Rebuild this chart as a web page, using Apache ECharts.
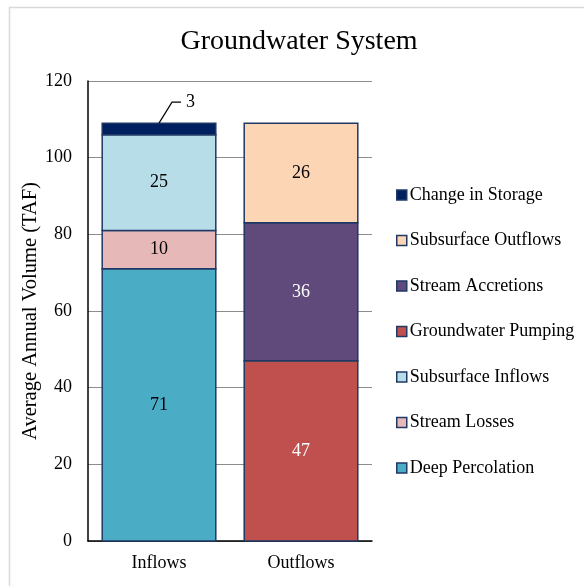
<!DOCTYPE html>
<html>
<head>
<meta charset="utf-8">
<script src="https://cdn.jsdelivr.net/npm/echarts@6/dist/echarts.min.js"></script>
<style>
html,body{margin:0;padding:0;background:#fff;}
#c{width:584px;height:586px;}
</style>
</head>
<body>
<div id="c"></div>
<script>
const categories = ['Inflows', 'Outflows'];
const deepPercolation = [71, 0];
const streamLosses = [10, 0];
const subsurfaceInflows = [25, 0];
const changeInStorage = [3, 0];
const groundwaterPumping = [0, 47];
const streamAccretions = [0, 36];
const subsurfaceOutflows = [0, 26];
const yTicks = { min: 0, max: 120, interval: 20 };
const legendOrder = ['Change in Storage', 'Subsurface Outflows', 'Stream Accretions', 'Groundwater Pumping', 'Subsurface Inflows', 'Stream Losses', 'Deep Percolation'];

const FONT = "'Liberation Serif', 'Times New Roman', serif";
const BORDER = '#1F3864';

const defs = [
  { name: 'Deep Percolation', values: deepPercolation, color: '#4BACC6', labelColor: '#000' },
  { name: 'Stream Losses', values: streamLosses, color: '#E6B9B8', labelColor: '#000' },
  { name: 'Subsurface Inflows', values: subsurfaceInflows, color: '#B7DEE8', labelColor: '#000' },
  { name: 'Change in Storage', values: changeInStorage, color: '#002060', labelColor: '#000', callout: true },
  { name: 'Groundwater Pumping', values: groundwaterPumping, color: '#C0504D', labelColor: '#fff' },
  { name: 'Stream Accretions', values: streamAccretions, color: '#604A7B', labelColor: '#fff' },
  { name: 'Subsurface Outflows', values: subsurfaceOutflows, color: '#FCD5B5', labelColor: '#000' }
];

const running = categories.map(() => 0);
const series = defs.map(function (d) {
  const data = [];
  d.values.forEach(function (v, i) {
    if (v > 0) {
      data.push([i, running[i], running[i] + v, v]);
      running[i] += v;
    }
  });
  return {
    name: d.name,
    type: 'custom',
    data: data,
    encode: { x: 0, y: 2 },
    itemStyle: { color: d.color, borderColor: BORDER, borderWidth: 1.5 },
    renderItem: function (params, api) {
      const ci = api.value(0), base = api.value(1), top = api.value(2), val = api.value(3);
      const p0 = api.coord([ci, base]);
      const p1 = api.coord([ci, top]);
      const bw = api.size([1, 0])[0] * 0.8;
      const x = p0[0] - bw / 2;
      const children = [{
        type: 'rect',
        shape: { x: x, y: p1[1], width: bw, height: p0[1] - p1[1] },
        style: { fill: d.color, stroke: BORDER, lineWidth: 1.5 }
      }];
      if (d.callout) {
        const ly = p1[1] - 21;
        children.push({
          type: 'polyline',
          shape: { points: [[p0[0], p1[1]], [p0[0] + 13, ly], [p0[0] + 22, ly]] },
          style: { stroke: '#000', lineWidth: 1.2, fill: 'none' }
        });
        children.push({
          type: 'text',
          style: { text: String(val), x: p0[0] + 27, y: ly, align: 'left', verticalAlign: 'middle',
                   fill: d.labelColor, font: '18px ' + FONT }
        });
      } else {
        children.push({
          type: 'text',
          style: { text: String(val), x: p0[0], y: (p0[1] + p1[1]) / 2, align: 'center', verticalAlign: 'middle',
                   fill: d.labelColor, font: '18px ' + FONT }
        });
      }
      return { type: 'group', children: children };
    }
  };
});

const chart = echarts.init(document.getElementById('c'), null, { renderer: 'canvas' });
chart.setOption({
  backgroundColor: '#fff',
  animation: false,
  graphic: [{
    type: 'rect', left: 7, top: 5,
    shape: { width: 620, height: 620 },
    style: { fill: 'none', stroke: '#d9d9d9', lineWidth: 1.5 },
    silent: true
  }],
  title: {
    text: 'Groundwater System', left: 294, top: 23, textAlign: 'center',
    textStyle: { fontFamily: FONT, fontSize: 28, fontWeight: 'normal', color: '#000' }
  },
  legend: {
    data: legendOrder,
    orient: 'vertical',
    left: 396, top: 186, padding: 0,
    icon: 'rect',
    itemWidth: 10, itemHeight: 10, itemGap: 27.5,
    textStyle: { fontFamily: FONT, fontSize: 18, lineHeight: 18, color: '#000', padding: [0,0,0,-2] },
    itemStyle: { borderColor: BORDER, borderWidth: 1.5 }
  },
  grid: { left: 88, right: 212, top: 81, bottom: 45 },
  xAxis: {
    type: 'category', data: categories,
    axisLine: { lineStyle: { color: '#000', width: 1.5 } },
    axisTick: { show: false },
    axisLabel: { fontFamily: FONT, fontSize: 18, color: '#000', margin: 13 }
  },
  yAxis: {
    type: 'value', min: yTicks.min, max: yTicks.max, interval: yTicks.interval,
    name: 'Average Annual Volume (TAF)', nameLocation: 'middle', nameGap: 47,
    nameTextStyle: { fontFamily: FONT, fontSize: 20.5, color: '#000' },
    axisLine: { show: true, lineStyle: { color: '#000', width: 1.5 } },
    axisTick: { show: false },
    splitLine: { lineStyle: { color: '#8c8c8c', width: 1.2 } },
    axisLabel: { fontFamily: FONT, fontSize: 18, color: '#000', margin: 16 }
  },
  series: series
});
</script>
</body>
</html>
